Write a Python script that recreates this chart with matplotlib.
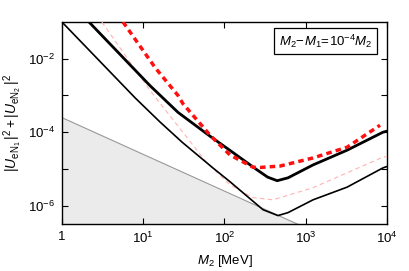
import matplotlib
matplotlib.use('Agg')
import matplotlib.pyplot as plt
import numpy as np
from matplotlib.ticker import FixedLocator, FixedFormatter, NullLocator

plt.rcParams['font.family'] = ['Liberation Sans', 'DejaVu Sans']
plt.rcParams['mathtext.fontset'] = 'custom'
plt.rcParams['mathtext.rm'] = 'Liberation Sans'
plt.rcParams['mathtext.it'] = 'Liberation Sans:italic'
plt.rcParams['mathtext.bf'] = 'Liberation Sans:bold'

# thin black curve
m_thin = [1, 8, 16.1, 30, 72, 117, 298, 455, 605, 1230, 3220, 8900, 10000]
u_thin = [0.1, 8.5e-4, 1.9e-4, 5.4e-5, 1.07e-5, 4.5e-6, 7.8e-7, 5.4e-7, 6.5e-7, 1.45e-6, 3.2e-6, 1.07e-5, 1.17e-5]

# thick black curve
m_thick = [2.15, 12.1, 26.8, 66.4, 117, 251, 340, 445, 605, 1230, 3220, 8900, 10000]
u_thick = [0.1, 1.86e-3, 3.47e-4, 7.8e-5, 3.2e-5, 9.5e-6, 6.0e-6, 4.8e-6, 5.75e-6, 1.29e-5, 3.24e-5, 1.0e-4, 1.07e-4]

# red dashed curve
m_red = [5.64, 14.0, 26.8, 30.8, 66.4, 117, 224, 274, 482, 1230, 3220, 8200]
u_red = [0.1, 5.75e-3, 1.0e-3, 6.0e-4, 8.3e-5, 2.4e-5, 1.12e-5, 1.1e-5, 1.2e-5, 2.0e-5, 3.9e-5, 1.55e-4]

# light pink dashed curve
m_pink = [3.1, 12.1, 61, 117, 224, 395, 1230, 8900, 10000]
u_pink = [0.1, 1.38e-3, 1.45e-5, 3.7e-6, 1.66e-6, 1.45e-6, 3.1e-6, 2.1e-5, 2.2e-5]

# excluded grey region (upper edge)
m_grey = [1, 1e4]
u_grey = [2.5e-4, 2.5e-8]

xticks = [1, 10, 100, 1000, 10000]
xlabels = ['1', '$10^1$', '$10^2$', '$10^3$', '$10^4$']
yticks = [1e-6, 1e-5, 1e-4, 1e-3, 1e-2]
ylabels = ['$10^{-6}$', '', '$10^{-4}$', '', '$10^{-2}$']

fig = plt.figure(figsize=(4.10, 2.71), dpi=100)
ax = fig.add_axes([0.151, 0.173, 0.793, 0.746])

ax.fill_between(m_grey, u_grey, 1e-9, facecolor='#ebebeb', edgecolor='none', zorder=1)
ax.plot(m_grey, u_grey, color='#999999', lw=0.8, zorder=2)

ax.plot(m_pink, u_pink, color='#ffb3b3', lw=0.8, dashes=(4, 3), zorder=3)
ax.plot(m_thin, u_thin, color='black', lw=1.2, zorder=4)
ax.plot(m_thick, u_thick, color='black', lw=2.0, zorder=5)
ax.plot(m_red, u_red, color='#ff1010', lw=2.5, dashes=(1.6, 1.2), zorder=6)

ax.set_xscale('log')
ax.set_yscale('log')
ax.set_xlim(1, 1e4)
ax.set_ylim(10**-6.5, 1e-1)

ax.xaxis.set_major_locator(FixedLocator(xticks))
ax.xaxis.set_major_formatter(FixedFormatter(xlabels))
ax.xaxis.set_minor_locator(NullLocator())
ax.yaxis.set_major_locator(FixedLocator(yticks))
ax.yaxis.set_major_formatter(FixedFormatter(ylabels))
ax.yaxis.set_minor_locator(NullLocator())
ax.tick_params(direction='in', top=True, right=True, length=4, width=0.8,
               labelsize=9.5, pad=5)
for s in ax.spines.values():
    s.set_linewidth(1.0)

ax.set_xlabel('$M_2$ [MeV]', fontsize=9.5, labelpad=5)
ax.set_ylabel(r'$|U_{\rm eN_1}\,|^2+|U_{\rm eN_2}\,|^2$', fontsize=10, labelpad=3)

ax.text(0.955, 0.905, r'$M_2\!-\!M_1\!=\!10^{-4}M_2$', transform=ax.transAxes,
        ha='right', va='center', fontsize=9.5,
        bbox=dict(boxstyle='square,pad=0.35', facecolor='white', edgecolor='black', lw=0.9))

fig.savefig('out.png', dpi=100)
